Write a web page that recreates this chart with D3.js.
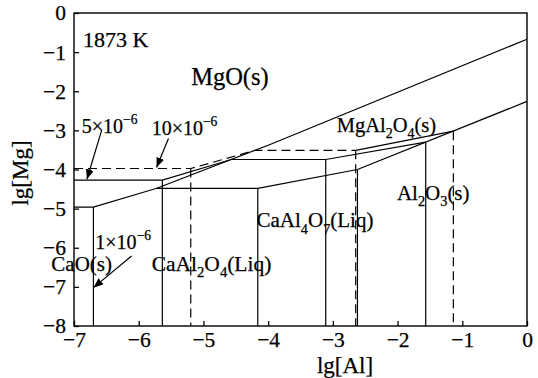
<!DOCTYPE html>
<html>
<head>
<meta charset="utf-8">
<script src="https://cdn.jsdelivr.net/npm/d3@7"></script>
<style>
  html, body { margin: 0; padding: 0; background: #fff; }
  svg { display: block; }
  text { font-family: "Liberation Serif", "Times New Roman", serif; fill: #000; stroke: #000; stroke-width: 0.25px; }
</style>
</head>
<body>
<svg id="chart" width="538" height="378"></svg>
<script>
// ---------- data (lg[Al], lg[Mg]) ----------
const xTicks = [-7, -6, -5, -4, -3, -2, -1, 0];
const yTicks = [0, -1, -2, -3, -4, -5, -6, -7, -8];

// MgO(s) / MgAl2O4(s) boundary
const mgoSpinelLine = [[-5.72, -4.48], [-3.97, -3.36], [0, -0.67]];
// MgAl2O4(s) / Al2O3(s) boundary
const spinelAl2o3Line = [[-2.62, -4.00], [0, -2.26]];

// iso T.Ca lines (1, 5, 10 ×10^-6)
const ca1Line  = [[-7, -4.96], [-6.70, -4.96], [-5.72, -4.48], [-4.16, -4.48], [-2.62, -4.00]];
const ca1Bounds = [[-6.70, -4.96], [-4.16, -4.48], [-2.62, -4.00]];
const ca5Line  = [[-7, -4.27], [-5.635, -4.27], [-4.57, -3.745], [-3.11, -3.745], [-1.565, -3.30]];
const ca5Bounds = [[-5.635, -4.27], [-3.11, -3.745], [-1.565, -3.30]];
const ca10LineDashed = [[-7, -3.975], [-5.196, -3.975], [-4.20, -3.51], [-2.647, -3.51]];
const ca10LineSolid  = [[-2.647, -3.51], [-1.138, -3.02]];
const ca10Bounds = [[-5.196, -3.975], [-2.647, -3.51], [-1.138, -3.02]];

// label texts
const labelTexts = ["1873 K", "MgO(s)", "5×10^{−6}", "10×10^{−6}", "1×10^{−6}",
  "CaO(s)", "CaAl_2O_4(Liq)", "CaAl_4O_7(Liq)", "MgAl_2O_4(s)", "Al_2O_3(s)"];
const xTitle = "lg[Al]";
const yTitle = "lg[Mg]";

// ---------- layout ----------
const svg = d3.select("#chart");
const mLeft = 74, mRight = 527, mTop = 13, mBottom = 326;
const x = d3.scaleLinear().domain([-7, 0]).range([mLeft, mRight]);
const y = d3.scaleLinear().domain([-8, 0]).range([mBottom, mTop]);

// label placement (left x, baseline y in axis units) and font size
const labelLayout = {
  "1873 K": [-6.86, -0.87, 22],
  "MgO(s)": [-5.19, -1.84, 24.5],
  "5×10^{−6}": [-6.88, -3.06, 20],
  "10×10^{−6}": [-5.80, -3.11, 20],
  "1×10^{−6}": [-6.67, -6.04, 20],
  "CaO(s)": [-7.35, -6.59, 21],
  "CaAl_2O_4(Liq)": [-5.80, -6.59, 21.5],
  "CaAl_4O_7(Liq)": [-4.18, -5.48, 21],
  "MgAl_2O_4(s)": [-2.94, -3.03, 20.5],
  "Al_2O_3(s)": [-2.01, -4.77, 21]
};
// arrows from label to line: [from, to] in axis units
const arrowLayout = [
  [[-6.57, -2.98], [-6.80, -4.25]],
  [[-5.54, -3.21], [-5.725, -3.95]],
  [[-6.11, -6.21], [-6.70, -7.02]]
];

svg.append("rect").attr("width", 538).attr("height", 378).attr("fill", "#fff");

// axes
const fmt = d3.format("d");
const gx = svg.append("g").attr("transform", `translate(0,${mBottom})`)
  .call(d3.axisBottom(x).tickValues(xTicks).tickSize(-5).tickPadding(6).tickFormat(fmt));
const gy = svg.append("g").attr("transform", `translate(${mLeft},0)`)
  .call(d3.axisLeft(y).tickValues(yTicks).tickSize(-5).tickPadding(8).tickFormat(fmt));
[gx, gy].forEach(g => {
  g.select(".domain").remove();
  g.selectAll(".tick line").attr("stroke", "#000").attr("stroke-width", 1.3);
  g.selectAll(".tick text").attr("font-size", 21.5)
    .attr("font-family", '"Liberation Serif", "Times New Roman", serif').attr("fill", "#000");
});

// frame
svg.append("rect").attr("x", mLeft).attr("y", mTop)
  .attr("width", mRight - mLeft).attr("height", mBottom - mTop)
  .attr("fill", "none").attr("stroke", "#000").attr("stroke-width", 1.4);

// lines
const line = d3.line().x(d => x(d[0])).y(d => y(d[1]));
const plot = svg.append("g").attr("fill", "none").attr("stroke", "#000").attr("stroke-width", 1.2);
function path(data, dashed) {
  const p = plot.append("path").attr("d", line(data));
  if (dashed) p.attr("stroke-dasharray", "9,5");
}
path(mgoSpinelLine);
path(spinelAl2o3Line);
path(ca1Line);
path(ca5Line);
path(ca10LineDashed, true);
path(ca10LineSolid);
ca1Bounds.forEach(d => path([d, [d[0], -8]]));
ca5Bounds.forEach(d => path([d, [d[0], -8]]));
ca10Bounds.forEach(d => path([d, [d[0], -8]], true));

// arrows
const defs = svg.append("defs");
defs.append("marker").attr("id", "ah").attr("viewBox", "0 0 10 8")
  .attr("refX", 10).attr("refY", 4).attr("markerWidth", 10).attr("markerHeight", 8)
  .attr("markerUnits", "userSpaceOnUse").attr("orient", "auto")
  .append("path").attr("d", "M0,0 L10,4 L0,8 Z").attr("fill", "#000");
arrowLayout.forEach(a => {
  svg.append("line")
    .attr("x1", x(a[0][0])).attr("y1", y(a[0][1]))
    .attr("x2", x(a[1][0])).attr("y2", y(a[1][1]))
    .attr("stroke", "#000").attr("stroke-width", 1.2)
    .attr("marker-end", "url(#ah)");
});

// rich text labels with sub/superscripts
function rich(g, px, py, str, size) {
  const t = g.append("text").attr("x", px).attr("y", py).attr("font-size", size);
  const re = /_(\w)|\^\{([^}]*)\}|([^_^]+)/g;
  let m, cur = 0;
  while ((m = re.exec(str)) !== null) {
    let txt, off = 0, small = false;
    if (m[1] !== undefined) { txt = m[1]; off = size * 0.3; small = true; }
    else if (m[2] !== undefined) { txt = m[2]; off = -size * 0.45; small = true; }
    else { txt = m[3]; }
    const ts = t.append("tspan").attr("dy", off - cur).text(txt);
    if (small) ts.attr("font-size", size * 0.68);
    cur = off;
  }
  return t;
}
const lg = svg.append("g");
labelTexts.forEach(s => {
  const p = labelLayout[s];
  rich(lg, x(p[0]), y(p[1]), s, p[2]);
});

// axis titles
svg.append("text").attr("x", 345).attr("y", 373).attr("text-anchor", "middle")
  .attr("font-size", 23).text(xTitle);
svg.append("text").attr("transform", "translate(28,173) rotate(-90)")
  .attr("text-anchor", "middle").attr("font-size", 23).text(yTitle);
</script>
</body>
</html>
